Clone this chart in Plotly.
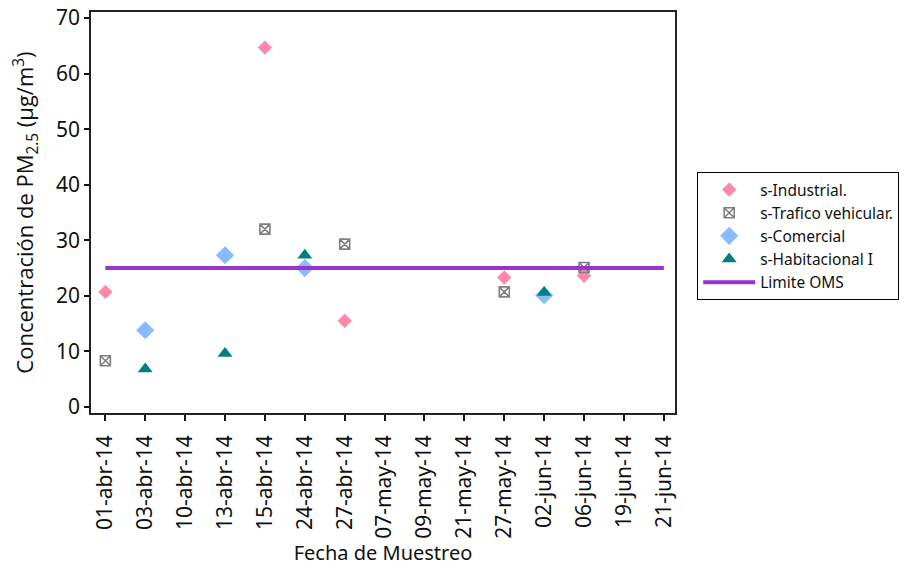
import plotly.graph_objects as go

# Sampling dates (categorical axis)
fechas = ["01-abr-14", "03-abr-14", "10-abr-14", "13-abr-14", "15-abr-14",
          "24-abr-14", "27-abr-14", "07-may-14", "09-may-14", "21-may-14",
          "27-may-14", "02-jun-14", "06-jun-14", "19-jun-14", "21-jun-14"]

# PM2.5 concentrations per site (µg/m3)
industrial_x = ["01-abr-14", "15-abr-14", "27-abr-14", "27-may-14", "06-jun-14"]
industrial_y = [20.7, 64.7, 15.5, 23.3, 23.6]

trafico_x = ["01-abr-14", "15-abr-14", "27-abr-14", "27-may-14", "06-jun-14"]
trafico_y = [8.3, 32.0, 29.3, 20.7, 25.1]

comercial_x = ["03-abr-14", "13-abr-14", "24-abr-14", "02-jun-14"]
comercial_y = [13.8, 27.3, 25.0, 20.1]

habitacional_x = ["03-abr-14", "13-abr-14", "24-abr-14", "02-jun-14"]
habitacional_y = [6.8, 9.6, 27.3, 20.6]

limite_oms = 25

FONT = "Noto Sans"
TITLE_FONT = "Open Sans"

fig = go.Figure()

fig.add_trace(go.Scatter(
    x=industrial_x, y=industrial_y, mode="markers", name="s-Industrial.",
    marker=dict(symbol="diamond", size=11, color="#FF88AA"),
))
fig.add_trace(go.Scatter(
    x=trafico_x, y=trafico_y, mode="markers", name="s-Trafico vehicular.",
    marker=dict(symbol="square-x-open", size=10, color="#808080",
                line=dict(width=1.6, color="#808080")),
))
fig.add_trace(go.Scatter(
    x=comercial_x, y=comercial_y, mode="markers", name="s-Comercial",
    marker=dict(symbol="diamond", size=14, color="#88BBFF"),
))
fig.add_trace(go.Scatter(
    x=habitacional_x, y=habitacional_y, mode="markers", name="s-Habitacional I",
    marker=dict(symbol="triangle-up", size=13, color="#007F7F"),
))
fig.add_trace(go.Scatter(
    x=fechas, y=[limite_oms] * len(fechas), mode="lines", name="Limite OMS",
    line=dict(color="#9933CC", width=4),
))

fig.update_layout(
    width=914, height=569,
    paper_bgcolor="white", plot_bgcolor="white",
    margin=dict(l=91, r=239, t=12, b=156),
    font=dict(family=FONT, size=16, color="#111111"),
    showlegend=True,
    legend=dict(
        x=1.038, y=0.601, xanchor="left", yanchor="top",
        bordercolor="#000000", borderwidth=1,
        font=dict(family=FONT, size=15.5),
        tracegroupgap=0, itemwidth=52,
    ),
)

fig.update_xaxes(
    type="category", categoryorder="array", categoryarray=fechas,
    range=[-0.36, 14.28], automargin=False,
    tickangle=-90, ticks="outside", ticklen=6, tickwidth=1.5, tickcolor="#111111",
    ticklabelstandoff=6,
    showline=True, linecolor="#222222", linewidth=1.5, mirror=True,
    showgrid=False, zeroline=False,
    title=dict(text="Fecha de Muestreo", font=dict(family=FONT, size=20), standoff=8),
    tickfont=dict(family=FONT, size=21),
)

fig.update_yaxes(
    range=[-1.1, 71.1], tickmode="linear", tick0=0, dtick=10, automargin=False,
    ticks="outside", ticklen=5, tickwidth=1.5, tickcolor="#111111",
    showline=True, linecolor="#222222", linewidth=1.5, mirror=True,
    showgrid=False, zeroline=False,
    title=dict(text="Concentración de PM<sub>2.5</sub> (µg/m<sup>3</sup>)",
               font=dict(family=TITLE_FONT, size=22), standoff=16),
    tickfont=dict(family=FONT, size=21),
)

fig.write_html("out.html")
